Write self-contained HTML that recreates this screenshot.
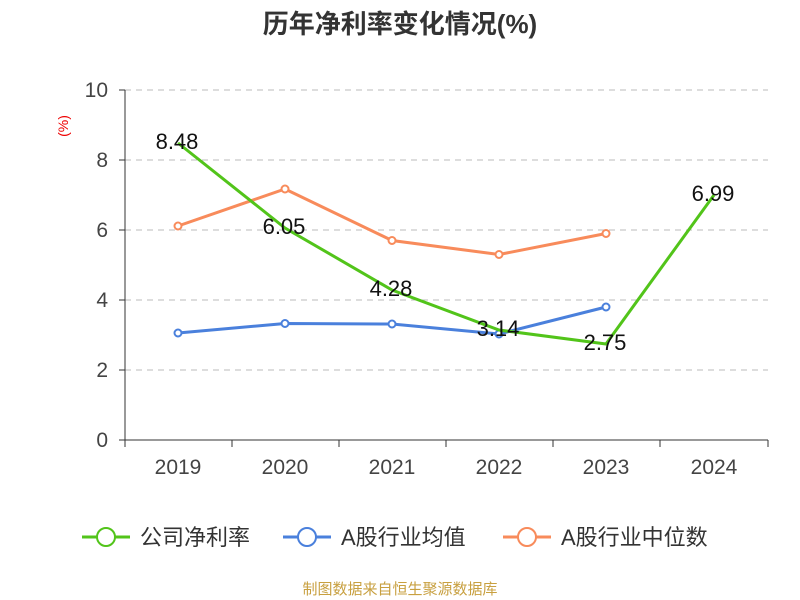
<!DOCTYPE html>
<html><head><meta charset="utf-8"><style>
html,body{margin:0;padding:0;background:#fff;}
svg{display:block;font-family:"Liberation Sans","Noto Sans CJK SC",sans-serif;}
</style></head><body>
<svg width="800" height="600" viewBox="0 0 800 600">
<text x="400" y="33" text-anchor="middle" font-size="26" font-weight="bold" fill="#333">历年净利率变化情况(%)</text>
<text x="68" y="126" text-anchor="middle" font-size="14" fill="#e00" transform="rotate(-90 68 126)">(%)</text>
<g stroke="#bbb" stroke-dasharray="6,5" stroke-width="1">
<line x1="125" y1="90" x2="768" y2="90"/>
<line x1="125" y1="160" x2="768" y2="160"/>
<line x1="125" y1="230" x2="768" y2="230"/>
<line x1="125" y1="300" x2="768" y2="300"/>
<line x1="125" y1="370" x2="768" y2="370"/>
</g>
<g stroke="#333" stroke-width="1">
<line x1="125" y1="90" x2="125" y2="440"/>
<line x1="125" y1="440" x2="768" y2="440"/>
<line x1="119" y1="90" x2="125" y2="90"/><line x1="119" y1="160" x2="125" y2="160"/><line x1="119" y1="230" x2="125" y2="230"/><line x1="119" y1="300" x2="125" y2="300"/><line x1="119" y1="370" x2="125" y2="370"/><line x1="119" y1="440" x2="125" y2="440"/>
<line x1="125" y1="440" x2="125" y2="447"/><line x1="232" y1="440" x2="232" y2="447"/><line x1="339" y1="440" x2="339" y2="447"/><line x1="446" y1="440" x2="446" y2="447"/><line x1="553" y1="440" x2="553" y2="447"/><line x1="660" y1="440" x2="660" y2="447"/><line x1="768" y1="440" x2="768" y2="447"/>
</g>
<g font-size="21" fill="#444" text-anchor="end">
<text x="108" y="97">10</text><text x="108" y="167">8</text><text x="108" y="237">6</text><text x="108" y="307">4</text><text x="108" y="377">2</text><text x="108" y="447">0</text>
</g>
<g font-size="21" fill="#444" text-anchor="middle">
<text x="178" y="474">2019</text><text x="285" y="474">2020</text><text x="392" y="474">2021</text><text x="499" y="474">2022</text><text x="606" y="474">2023</text><text x="714" y="474">2024</text>
</g>
<polyline fill="none" stroke="#f88b5b" stroke-width="3" points="178,226 285,189 392,240.5 499,254.5 606,233.5"/>
<g fill="#fff" stroke="#f88b5b" stroke-width="2"><circle cx="178" cy="226" r="3.5"/><circle cx="285" cy="189" r="3.5"/><circle cx="392" cy="240.5" r="3.5"/><circle cx="499" cy="254.5" r="3.5"/><circle cx="606" cy="233.5" r="3.5"/></g>
<polyline fill="none" stroke="#4a80dc" stroke-width="3" points="178,333 285,323.5 392,324 499,334 606,307"/>
<g fill="#fff" stroke="#4a80dc" stroke-width="2"><circle cx="178" cy="333" r="3.5"/><circle cx="285" cy="323.5" r="3.5"/><circle cx="392" cy="324" r="3.5"/><circle cx="499" cy="334" r="3.5"/><circle cx="606" cy="307" r="3.5"/></g>
<polyline fill="none" stroke="#52c41a" stroke-width="3" points="178,143 285,228 392,290 499,330 606,344 714,195"/>
<g font-size="22" fill="#111" text-anchor="middle">
<text x="177" y="149">8.48</text><text x="284" y="234">6.05</text><text x="391" y="296">4.28</text><text x="498" y="336">3.14</text><text x="605" y="350">2.75</text><text x="713" y="201">6.99</text>
</g>
<g font-size="22" fill="#333">
<line x1="82" y1="537" x2="130" y2="537" stroke="#52c41a" stroke-width="3"/><circle cx="106" cy="537" r="9" fill="#fff" stroke="#52c41a" stroke-width="2"/>
<text x="140" y="545">公司净利率</text>
<line x1="283" y1="537" x2="331" y2="537" stroke="#4a80dc" stroke-width="3"/><circle cx="307" cy="537" r="9" fill="#fff" stroke="#4a80dc" stroke-width="2"/>
<text x="341" y="545">A股行业均值</text>
<line x1="503" y1="537" x2="551" y2="537" stroke="#f88b5b" stroke-width="3"/><circle cx="527" cy="537" r="9" fill="#fff" stroke="#f88b5b" stroke-width="2"/>
<text x="561" y="545">A股行业中位数</text>
</g>
<text x="400" y="594" text-anchor="middle" font-size="15" fill="#c8a040">制图数据来自恒生聚源数据库</text>
</svg>
</body></html>
